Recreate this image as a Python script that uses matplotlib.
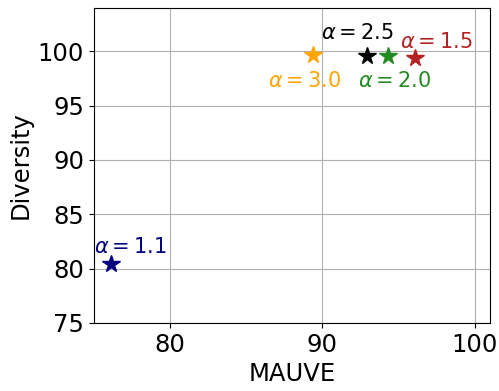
import matplotlib
matplotlib.use('Agg')
from matplotlib import pyplot as plt

alphas = ['1.1', '1.5', '2.0', '2.5', '3.0']
mauve = [76.1, 96.1, 94.3, 92.9, 89.4]
diversity = [80.4, 99.4, 99.6, 99.6, 99.7]
colors = ['navy', 'firebrick', 'forestgreen', 'black', 'orange']
# label positions (data coords)
label_x = [77.4, 97.5, 94.75, 92.3, 88.8]
label_y = [82.0, 100.9, 97.3, 101.65, 97.3]

fig, ax = plt.subplots(figsize=(4.99, 3.91), dpi=100)
fig.subplots_adjust(left=0.188, right=0.982, top=0.98, bottom=0.174)

for a, x, y, c, lx, ly in zip(alphas, mauve, diversity, colors, label_x, label_y):
    ax.plot(x, y, marker='*', color=c, markersize=13, linestyle='none', zorder=3)
    ax.text(lx, ly, r'$\alpha=%s$' % a, color=c, fontsize=15, ha='center', va='center')

ax.set_xlim(75, 101)
ax.set_ylim(75, 104)
ax.set_xticks([80, 90, 100])
ax.set_yticks([75, 80, 85, 90, 95, 100])
ax.tick_params(labelsize=17.5)
ax.set_xlabel('MAUVE', fontsize=17.5)
ax.set_ylabel('Diversity', fontsize=17.5)
ax.grid(True)

fig.savefig('out.png')
